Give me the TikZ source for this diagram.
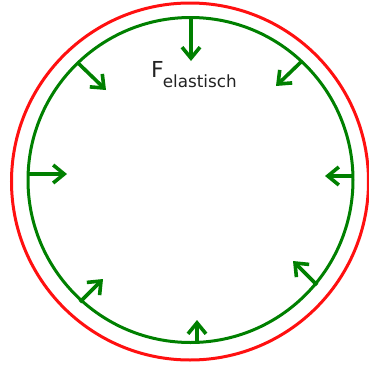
\documentclass[tikz,border=0pt]{standalone}
\usepackage{fontspec}
\setmainfont{DejaVu Sans}
\usetikzlibrary{arrows.meta}
\definecolor{ringred}{HTML}{FF1010}
\definecolor{springgreen}{HTML}{008000}
\definecolor{labelgray}{HTML}{222222}

\tikzset{
  ring/.style={line width=3pt},
  force/.style={springgreen, line width=3.6pt, -{Straight Barb[length=11pt,width=18pt]}}
}

\begin{document}
\begin{tikzpicture}[x=1pt, y=-1pt]
  \useasboundingbox (0,0) rectangle (369,370);

  \draw[ring, ringred] (190,181.5) circle[radius=178.5];
  \draw[ring, springgreen] (190.5,180) circle[radius=162.5];

  % start and tip of every force arrow
  \coordinate (top)  at (191,17);   \coordinate (topTip) at (191,61);
  \coordinate (ul)   at (78,63);    \coordinate (ulTip)  at (106,90);
  \coordinate (ur)   at (301,62);   \coordinate (urTip)  at (276,86);
  \coordinate (lft)  at (27,174);   \coordinate (lftTip) at (67,174);
  \coordinate (rgt)  at (354,176);  \coordinate (rgtTip) at (325,176);
  \coordinate (ll)   at (80,302);   \coordinate (llTip)  at (103,279);
  \coordinate (lr)   at (317,285);  \coordinate (lrTip)  at (293,261);
  \coordinate (bot)  at (197,343);  \coordinate (botTip) at (197,320);

  \draw[force] (top) -- (topTip);
  \draw[force] (ul) -- (ulTip);
  \draw[force] (ur) -- (urTip);
  \draw[force] (lft) -- (lftTip);
  \draw[force] (rgt) -- (rgtTip);
  \draw[force] (ll) -- (llTip);
  \draw[force] (lr) -- (lrTip);
  \draw[force] (bot) -- (botTip);

  \node[anchor=base west, inner sep=0pt, text=labelgray] (fel) at (151,77)
    {\fontsize{22}{26}\selectfont F\kern-1pt\raisebox{-10.5pt}{\fontsize{16.8}{20}\selectfont elastisch}};
\end{tikzpicture}
\end{document}
